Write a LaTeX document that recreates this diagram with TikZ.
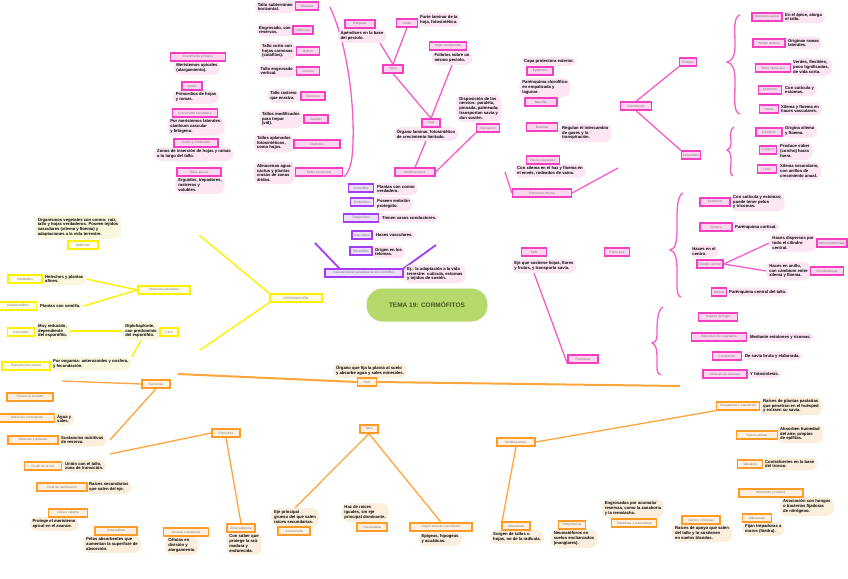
\documentclass[tikz,border=0pt]{standalone}
\usepackage{fontspec}
\setmainfont{Liberation Sans}
\definecolor{pk}{HTML}{F43FC3}
\definecolor{pkf}{HTML}{FBD6F0}
\definecolor{pkn}{HTML}{FCE6F3}
\definecolor{yl}{HTML}{FFF000}
\definecolor{ylf}{HTML}{FFFDE6}
\definecolor{yln}{HTML}{F9F7DE}
\definecolor{og}{HTML}{FF9B26}
\definecolor{ogf}{HTML}{FFF1E2}
\definecolor{ogn}{HTML}{FBEEDD}
\definecolor{vl}{HTML}{A43CF2}
\definecolor{vlf}{HTML}{EEDFFC}
\definecolor{gr}{HTML}{B5D96B}
\definecolor{grt}{HTML}{4A5A20}
\pgfdeclarelayer{bg}
\pgfdeclarelayer{nl}
\pgfsetlayers{bg,nl,main}
\tikzset{
  base/.style={line width=1.3pt, inner xsep=1.5pt, inner ysep=1pt, minimum height=8pt,
    font=\fontsize{3.2}{3.6}\selectfont, text=black!55},
  pb/.style={base, draw=pk, fill=pkf},
  yb/.style={base, draw=yl, fill=ylf},
  ob/.style={base, draw=og, fill=ogf},
  vb/.style={base, draw=vl, fill=vlf},
  nt/.style={font=\fontsize{4.2}{4.8}\selectfont\bfseries, align=left, inner xsep=3pt, inner ysep=2.5pt, rounded corners=7pt, text=black},
  pn/.style={nt, fill=pkn},
  yn/.style={nt, fill=yln},
  on/.style={nt, fill=ogn},
  vn/.style={nt, fill=pkn},
  pl/.style={draw=pk!85, line width=1.3pt},
  yline/.style={draw=yl, line width=1.4pt},
  ol/.style={draw=og!90, line width=1.3pt},
  vline/.style={draw=vl, line width=1.8pt},
}
\begin{document}
\begin{tikzpicture}[x=1pt,y=-1pt]
\begin{pgfonlayer}{bg}
\fill[white] (0,0) rectangle (848,578);
\end{pgfonlayer}
\useasboundingbox (0,0) rectangle (848,578);

% ---------- central
\node[fill=gr, rounded corners=16pt, minimum width=121pt, minimum height=33pt,
      font=\fontsize{6.5}{7}\selectfont\bfseries, text=grt] (tema) at (427,305) {TEMA 19: CORMÓFITOS};

% ---------- YELLOW (introduccion)
\node[yb, minimum width=52pt] (intro) at (296,298) {INTRODUCCIÓN};
\node[yb, minimum width=30pt] (def) at (83,245) {Definición};
\node[yb, minimum width=52pt] (div) at (164,290) {Divisiones principales};
\node[yb, minimum width=34pt] (pte) at (25,279) {Pteridófitos};
\node[yb, minimum width=37pt] (esp) at (18,306) {Espermatófitos};
\node[yb, minimum width=18pt] (cic) at (169,332) {Ciclo};
\node[yb, minimum width=27pt] (gam) at (21,332) {Gametófito};
\node[yb, minimum width=48pt] (rep) at (26,366) {Reproducción sexual};
\begin{pgfonlayer}{nl}
\node[yn, anchor=south] (defn) at (78,239) {Organismos vegetales con cormo: raíz,\\ tallo y hojas verdaderos. Poseen tejidos\\ vasculares (xilema y floema) y\\ adaptaciones a la vida terrestre.};
\node[yn, anchor=west] (pten) at (42,279) {Helechos y plantas\\ afines.};
\node[yn, anchor=west] (espn) at (37,306) {Plantas con semilla.};
\node[yn, anchor=east] (cicn) at (160,331) {Diplohaplonte,\\ con predominio\\ del esporófito.};
\node[yn, anchor=west] (gamn) at (35,331) {Muy reducido,\\ dependiente\\ del esporófito.};
\node[yn, anchor=west] (repn) at (50,364) {Por oogamia: anterozoides y oosfera,\\ y fecundación.};
\end{pgfonlayer}
\coordinate (y1) at (199,235);
\coordinate (y2) at (200,350);
\begin{pgfonlayer}{bg}
\draw[yline] (intro.north west) -- (y1);
\draw[yline] (intro.south west) -- (y2);
\draw[yline] (div.west) -- (pten.east);
\draw[yline] (div.west) -- (espn.east);
\draw[yline] (cicn.west) -- (gamn.east);
\draw[yline] (cicn.south) -- (repn.north east);
\end{pgfonlayer}

% ---------- PURPLE
\node[vb, minimum width=25pt] (v1) at (361,188) {Cormófitos};
\node[vb, minimum width=23pt] (v2) at (362,202) {Embriófitos};
\node[vb, minimum width=35pt] (v3) at (361,218) {Traqueófitos};
\node[vb, minimum width=20pt] (v4) at (362,235) {Vasculares};
\node[vb, minimum width=22pt] (v5) at (361,251) {Telomófitos};
\node[vb, minimum width=78pt] (vbig) at (364,273) {Características generales de los cormófitos};
\begin{pgfonlayer}{nl}
\node[vn, anchor=west] at (374,189) {Plantas con cormo\\ verdadero.};
\node[vn, anchor=west] at (374,204) {Poseen embrión\\ protegido.};
\node[vn, anchor=west] at (379,218) {Tienen vasos conductores.};
\node[vn, anchor=west] at (373,235) {Haces vasculares.};
\node[vn, anchor=west] at (372,252) {Origen en los\\ telomas.};
\node[vn, anchor=west] at (404,274) {Ej.: la adaptación a la vida\\ terrestre: cutícula, estomas\\ y tejidos de sostén.};
\end{pgfonlayer}
\coordinate (pv1) at (315,243);
\coordinate (pv2) at (436,245);
\begin{pgfonlayer}{bg}
\draw[vline] ([xshift=15pt]vbig.north west) -- (pv1);
\draw[vline] (vbig.north east) -- (pv2);
\end{pgfonlayer}

% ---------- PINK far-left column
\node[pb, minimum width=55pt] (p1) at (198,57) {Crecimiento primario};
\node[pb, minimum width=20pt] (p2) at (192,86) {Yemas};
\node[pb, minimum width=45pt] (p3) at (195,113) {Crecimiento secundario};
\node[pb, minimum width=44pt] (p4) at (196,143) {Nudos y entrenudos};
\node[pb, minimum width=44pt] (p5) at (199,172) {Tallos aéreos};
\begin{pgfonlayer}{nl}
\node[pn, anchor=north] at (197,61) {Meristemos apicales\\ (alargamiento).};
\node[pn, anchor=north] at (196,90) {Primordios de hojas\\ y ramas.};
\node[pn, anchor=north] at (196,117) {Por meristemos laterales:\\ cámbium vascular\\ y felógeno.};
\node[pn, anchor=north] at (194,147) {Zonas de inserción de hojas y ramas\\ a lo largo del tallo.};
\node[pn, anchor=north] at (200,176) {Erguidos, trepadores,\\ rastreros y\\ volubles.};
\end{pgfonlayer}

% ---------- PINK second column (tallos modificados)
\node[pb, minimum width=23pt] (q1) at (307,6) {Rizomas};
\node[pb, minimum width=20pt] (q2) at (303,30) {Tubérculos};
\node[pb, minimum width=23pt] (q3) at (308,51) {Bulbos};
\node[pb, minimum width=23pt] (q4) at (308,71) {Cormos};
\node[pb, minimum width=24pt] (q5) at (313,96) {Estolones};
\node[pb, minimum width=24pt] (q6) at (316,119) {Zarcillos};
\node[pb, minimum width=46pt] (q7) at (317,144) {Cladodios};
\node[pb, minimum width=47pt] (q8) at (319,172) {Tallos suculentos};
\begin{pgfonlayer}{nl}
\node[pn, anchor=east] at (296,7) {Tallo subterráneo\\ horizontal.};
\node[pn, anchor=east] at (294,30) {Engrosado, con\\ reservas.};
\node[pn, anchor=east] at (296,51) {Tallo corto con\\ hojas carnosas\\ (catafilos).};
\node[pn, anchor=east] at (296,71) {Tallo engrosado\\ vertical.};
\node[pn, anchor=east] at (300,96) {Tallo rastrero\\ que enraíza.};
\node[pn, anchor=east] at (303,119) {Tallos modificados\\ para trepar\\ (vid).};
\node[pn, anchor=east] at (294,143) {Tallos aplanados\\ fotosintéticos,\\ como hojas.};
\node[pn, anchor=east] at (295,173) {Almacenan agua:\\ cactus y plantas\\ crasas de zonas\\ áridas.};
\end{pgfonlayer}
\begin{pgfonlayer}{bg}
\draw[pl] (330,7) .. controls (350,50) and (356,120) .. (352,157) .. controls (351,165) and (349,172) .. (344,177);
\end{pgfonlayer}

% ---------- PINK hoja cluster
\node[pb, minimum width=30pt] (hest) at (360,24) {Estípulas};
\node[pb, minimum width=21pt] (hlim) at (407,23) {Limbo};
\node[pb, minimum width=20pt] (htip) at (393,69) {Tipos};
\node[pb, minimum width=37pt] (hcom) at (448,46) {Hojas compuestas};
\node[pb, minimum width=18pt] (hoja) at (431,123) {Hoja};
\node[pb, minimum width=40pt] (hmod) at (415,172) {Modificaciones};
\node[pb, minimum width=23pt] (hner) at (488,128) {Nerviación};
\begin{pgfonlayer}{nl}
\node[pn, anchor=north] (hestn) at (362,29) {Apéndices en la base\\ del pecíolo.};
\node[pn, anchor=west] at (417,20) {Parte laminar de la\\ hoja, fotosintética.};
\node[pn, anchor=north] (hcomn) at (452,51) {Folíolos sobre un\\ mismo pecíolo.};
\node[pn, anchor=north] (hojan) at (426,127) {Órgano laminar, fotosintético\\ de crecimiento limitado.};
\node[pn, anchor=south] at (479,122) {Disposición de los\\ nervios: paralela,\\ pinnada, palmeada;\\ transportan savia y\\ dan sostén.};
\end{pgfonlayer}
\begin{pgfonlayer}{bg}
\draw[pl] ([xshift=18pt]hestn.south) -- (htip.north);
\draw[pl] (hlim.south) -- (htip.north);
\draw[pl] (htip.south) -- (hoja.north);
\draw[pl] (hcomn.south) -- (hoja.north);
\draw[pl] (hojan.south) -- (hmod.north);
\draw[pl] (hmod.east) -- (hner.south west);
\end{pgfonlayer}

% ---------- PINK middle right (estructura de la hoja)
\node[pb, minimum width=26pt] (m1) at (540,71) {Epidermis};
\node[pb, minimum width=32pt] (m2) at (541,102) {Mesófilo};
\node[pb, minimum width=31pt] (m3) at (542,127) {Estomas};
\node[pb, minimum width=33pt] (m4) at (543,160) {Haces vasculares};
\node[pb, minimum width=59pt] (m5) at (542,193) {Estructura interna};
\begin{pgfonlayer}{nl}
\node[pn, anchor=south] at (549,66) {Capa protectora exterior.};
\node[pn, anchor=south] at (545,97) {Parénquima clorofílico\\ en empalizada y\\ lagunar.};
\node[pn, anchor=west] at (559,133) {Regulan el intercambio\\ de gases y la\\ transpiración.};
\node[pn, anchor=north] (m4n) at (550,164) {Con xilema en el haz y floema en\\ el envés, rodeados de vaina.};
\end{pgfonlayer}
\coordinate (mm1) at (505,172);
\coordinate (mm2) at (618,168);
\begin{pgfonlayer}{bg}
\draw[pl] (m5.west) -- (mm1);
\draw[pl] (m5.east) -- (mm2);
\end{pgfonlayer}

% ---------- PINK crecimiento
\node[pb, minimum width=31pt] (crec) at (636,106) {Crecimiento};
\node[pb, minimum width=17pt] (prim) at (688,62) {Primario};
\node[pb, minimum width=18pt] (sec) at (691,155) {Secundario};
\begin{pgfonlayer}{bg}
\draw[pl] (crec.north) -- (prim.south west);
\draw[pl] (crec.south) -- (sec.north west);
\draw[pl] (740,15) .. controls (733,17) and (735,30) .. (735,45) .. controls (735,57) and (732,61) .. (727,62) .. controls (732,63) and (735,68) .. (735,80) .. controls (735,100) and (733,112) .. (740,114);
\draw[pl] (734,127) .. controls (729,129) and (731,138) .. (731,142) .. controls (731,147) and (730,149) .. (727,150) .. controls (730,151) and (731,155) .. (731,160) .. controls (731,168) and (729,175) .. (733,176);
\end{pgfonlayer}
\node[pb, minimum width=30pt] (r1) at (767,17) {Meristemo apical};
\node[pb, minimum width=32pt] (r2) at (769,43) {Yemas axilares};
\node[pb, minimum width=35pt] (r3) at (773,68) {Tallos herbáceos};
\node[pb, minimum width=23pt] (r4) at (770,90) {Epidermis};
\node[pb, minimum width=19pt] (r5) at (769,109) {Haces};
\node[pb, minimum width=26pt] (r6) at (769,132) {Cámbium};
\node[pb, minimum width=17pt] (r7) at (768,150) {Felógeno};
\node[pb, minimum width=19pt] (r8) at (767,169) {Leño};
\begin{pgfonlayer}{nl}
\node[pn, anchor=west] at (782,17) {En el ápice, alarga\\ el tallo.};
\node[pn, anchor=west] at (785,43) {Originan ramas\\ laterales.};
\node[pn, anchor=west] at (790,67) {Verdes, flexibles,\\ poco lignificados,\\ de vida corta.};
\node[pn, anchor=west] at (782,90) {Con cutícula y\\ estomas.};
\node[pn, anchor=west] at (778,109) {Xilema y floema en\\ haces vasculares.};
\node[pn, anchor=west] at (782,131) {Origina xilema\\ y floema.};
\node[pn, anchor=west] at (777,151) {Produce súber\\ (corcho) hacia\\ fuera.};
\node[pn, anchor=west] at (777,171) {Xilema secundario,\\ con anillos de\\ crecimiento anual.};
\end{pgfonlayer}

% ---------- PINK tallo: estructura
\node[pb, minimum width=25pt, line width=1.6pt] (tal) at (534,252) {Tallo};
\node[pb, minimum width=25pt] (test) at (617,252) {Estructura};
\node[pb, minimum width=30pt] (fun) at (583,359) {Funciones};
\begin{pgfonlayer}{nl}
\node[pn, anchor=north] (taln) at (544,259) {Eje que sostiene hojas, flores\\ y frutos, y transporta savia.};
\end{pgfonlayer}
\begin{pgfonlayer}{bg}
\draw[pl] ([xshift=-10pt]taln.south) -- (fun.south west);
\draw[pl] (683,193) .. controls (676,196) and (677,215) .. (677,230) .. controls (677,243) and (675,249) .. (670,250) .. controls (675,251) and (677,258) .. (677,270) .. controls (677,285) and (676,296) .. (681,297);
\draw[pl] (663,307) .. controls (657,310) and (657,325) .. (657,333) .. controls (657,340) and (656,342) .. (652,343) .. controls (656,344) and (657,350) .. (657,358) .. controls (657,368) and (656,374) .. (661,375);
\end{pgfonlayer}
\node[pb, minimum width=30pt] (s1) at (715,202) {Epidermis};
\node[pb, minimum width=32pt] (s2) at (716,227) {Corteza};
\node[pb, minimum width=26pt] (s3) at (710,264) {Cilindro central};
\node[pb, minimum width=30pt] (s4) at (832,243) {Monocotiledóneas};
\node[pb, minimum width=33pt] (s5) at (827,271) {Dicotiledóneas};
\node[pb, minimum width=15pt] (s6) at (719,292) {Médula};
\begin{pgfonlayer}{nl}
\node[pn, anchor=west] at (730,202) {Con cutícula y estomas;\\ puede tener pelos\\ y tricomas.};
\node[pn, anchor=west] at (732,227) {Parénquima cortical.};
\node[pn, anchor=south] at (704,258) {Haces en el\\ centro.};
\node[pn, anchor=east] (s4n) at (817,243) {Haces dispersos por\\ todo el cilindro\\ central.};
\node[pn, anchor=east] (s5n) at (811,271) {Haces en anillo,\\ con cámbium entre\\ xilema y floema.};
\node[pn, anchor=west] at (726,292) {Parénquima central del tallo.};
\end{pgfonlayer}
\begin{pgfonlayer}{bg}
\draw[pl] (s3.east) -- (s4n.west);
\draw[pl] (s3.east) -- (s5n.west);
\end{pgfonlayer}
\node[pb, minimum width=39pt] (t1) at (718,317) {Soporte de hojas};
\node[pb, minimum width=55pt] (t2) at (719,337) {Reproducción vegetativa};
\node[pb, minimum width=29pt] (t3) at (727,356) {Conducción};
\node[pb, minimum width=44pt] (t4) at (725,374) {Almacén de reservas};
\begin{pgfonlayer}{nl}
\node[pn, anchor=west] at (747,337) {Mediante estolones y rizomas.};
\node[pn, anchor=west] at (742,356) {De savia bruta y elaborada.};
\node[pn, anchor=west] at (747,374) {Y fotosíntesis.};
\end{pgfonlayer}

% ---------- ORANGE (raiz)
\node[ob, minimum width=19pt, line width=1.6pt] (raiz) at (367,382) {Raíz};
\begin{pgfonlayer}{nl}
\node[on, anchor=south] at (370,378) {Órgano que fija la planta al suelo\\ y absorbe agua y sales minerales.};
\end{pgfonlayer}
\coordinate (ol1) at (178,374);
\coordinate (ol2) at (680,386);
\coordinate (ol3) at (62,381);
\begin{pgfonlayer}{bg}
\draw[ol, line width=2pt] (raiz.west) -- (ol1);
\draw[ol, line width=2pt] (raiz.east) -- (ol2);
\end{pgfonlayer}
\node[ob, minimum width=28pt] (ofun) at (156,384) {Funciones};
\node[ob, minimum width=46pt] (o1) at (30,397) {Fijación al sustrato};
\node[ob, minimum width=55pt] (o2) at (27,418) {Absorción y transporte};
\node[ob, minimum width=50pt] (o3) at (33,440) {Reservas y almacén};
\node[ob, minimum width=28pt] (oest) at (226,433) {Estructura};
\node[ob, minimum width=37pt] (o4) at (43,466) {Cuello de la raíz};
\node[ob, minimum width=50pt] (o5) at (62,487) {Zona de ramificación};
\node[ob, minimum width=39pt] (o6) at (68,513) {Cofia o caliptra};
\node[ob, minimum width=42pt] (o7) at (116,531) {Zona pilífera};
\node[ob, minimum width=45pt] (o8) at (186,532) {Zona de crecimiento};
\node[ob, minimum width=28pt] (o9) at (241,528) {Zona suberosa};
\begin{pgfonlayer}{nl}
\node[on, anchor=west] at (54,419) {Agua y\\ sales.};
\node[on, anchor=west] (o3n) at (58,440) {Sustancias nutritivas\\ de reserva.};
\node[on, anchor=west] at (62,466) {Unión con el tallo,\\ zona de transición.};
\node[on, anchor=west] at (86,487) {Raíces secundarias\\ que salen del eje.};
\node[on, anchor=north] at (54,517) {Protege el meristemo\\ apical en el avance.};
\node[on, anchor=north] at (112,535) {Pelos absorbentes que\\ aumentan la superficie de\\ absorción.};
\node[on, anchor=north] at (182,536) {Células en\\ división y\\ alargamiento.};
\node[on, anchor=north] at (244,532) {Con súber que\\ protege la raíz\\ madura y\\ endurecida.};
\end{pgfonlayer}
\coordinate (of1) at (110,440);
\coordinate (of2) at (110,454);
\begin{pgfonlayer}{bg}
\draw[ol] (ofun.west) -- (ol3);
\draw[ol] (ofun.south) -- (of1);
\draw[ol] (oest.west) -- (of2);
\draw[ol] (oest.south) -- (o9.north);
\end{pgfonlayer}
\node[ob, minimum width=18pt] (otip) at (369,429) {Tipos};
\node[ob, minimum width=32pt] (o10) at (294,531) {Axonomorfa};
\node[ob, minimum width=30pt] (o11) at (372,527) {Fasciculada};
\node[ob, minimum width=62pt] (o12) at (441,527) {Según zona de crecimiento};
\node[ob, minimum width=38pt] (omod) at (516,442) {Modificaciones};
\node[ob, minimum width=28pt] (o13) at (516,526) {Adventicias};
\node[ob, minimum width=27pt] (o14) at (572,525) {Respiratorias};
\node[ob, minimum width=45pt] (o15) at (634,523) {Tuberosas o reservantes};
\node[ob, minimum width=38pt] (o16) at (701,520) {Zancos o fúlcreas};
\node[ob, minimum width=43pt] (o17) at (738,406) {Chupadoras o haustorios};
\node[ob, minimum width=41pt] (o18) at (757,435) {Raíces aéreas};
\node[ob, minimum width=25pt] (o19) at (750,464) {Tabulares};
\node[ob, minimum width=64pt] (o20) at (771,493) {Micorrizas y nódulos};
\node[ob, minimum width=29pt] (o21) at (757,518) {Adherentes};
\begin{pgfonlayer}{nl}
\node[on, anchor=south] (o10n) at (295,526) {Eje principal\\ grueso del que salen\\ raíces secundarias.};
\node[on, anchor=south] at (365,522) {Haz de raíces\\ iguales, sin eje\\ principal dominante.};
\node[on, anchor=north] at (440,532) {Epigeas, hipogeas\\ y acuáticas.};
\node[on, anchor=north] at (517,530) {Surgen de tallos u\\ hojas, no de la radícula.};
\node[on, anchor=north] at (574,529) {Neumatóforos en\\ suelos encharcados\\ (manglares).};
\node[on, anchor=south] at (633,518) {Engrosadas por acumular\\ reservas, como la zanahoria\\ y la remolacha.};
\node[on, anchor=north] at (702,524) {Raíces de apoyo que salen\\ del tallo y lo sostienen\\ en suelos blandos.};
\node[on, anchor=west] at (760,406) {Raíces de plantas parásitas\\ que penetran en el huésped\\ y extraen su savia.};
\node[on, anchor=west] at (777,434) {Absorben humedad\\ del aire; propias\\ de epífitas.};
\node[on, anchor=west] at (762,464) {Contrafuertes en la base\\ del tronco.};
\node[on, anchor=north west] at (780,497) {Asociación con hongos\\ o bacterias fijadoras\\ de nitrógeno.};
\node[on, anchor=north west] at (742,522) {Fijan trepadoras a\\ muros (hiedra).};
\end{pgfonlayer}
\begin{pgfonlayer}{bg}
\draw[ol] (otip.south) -- (o10n.north);
\draw[ol] (otip.south) -- (o12.north);
\draw[ol] (omod.south) -- ([yshift=-4pt]o13.north west);
\draw[ol] (omod.east) -- (o17.south west);
\end{pgfonlayer}
\end{tikzpicture}
\end{document}
